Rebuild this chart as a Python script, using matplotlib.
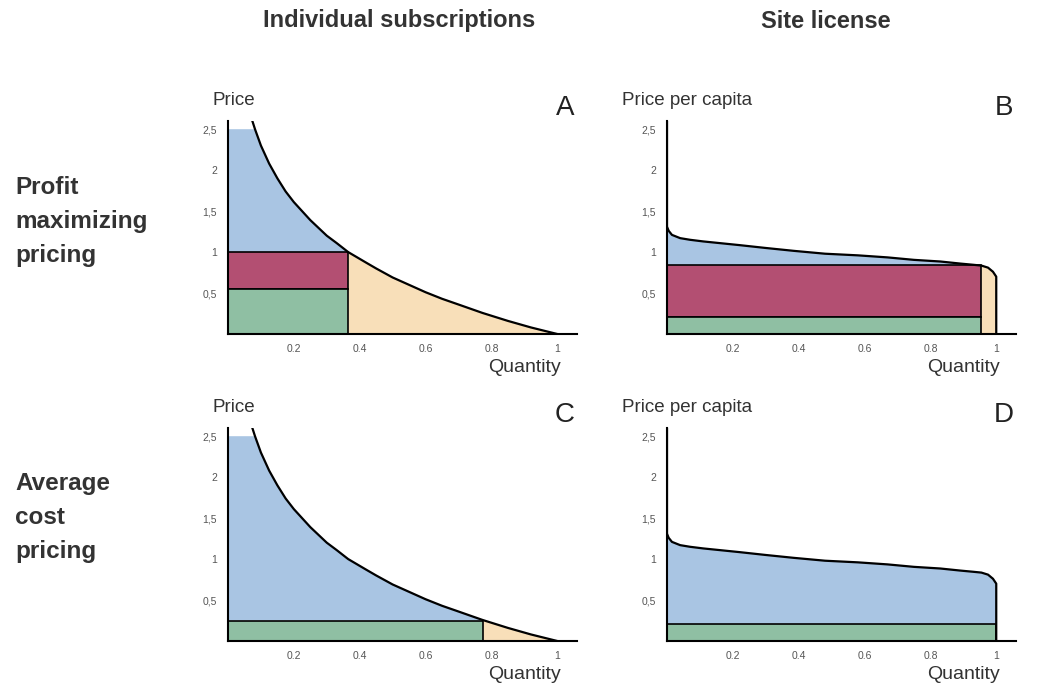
import matplotlib
matplotlib.use('Agg')
import matplotlib.pyplot as plt
import matplotlib.patches as patches
import numpy as np

plt.rcParams['font.family'] = ['Liberation Sans', 'DejaVu Sans']

# === data ===
# individual subscription demand curve (quantity, price)
IND_Q = [0.074, 0.082, 0.1, 0.125, 0.15, 0.175, 0.2, 0.25, 0.3, 0.33, 0.365, 0.42,
         0.45, 0.5, 0.55, 0.6, 0.65, 0.7, 0.773, 0.85, 0.92, 0.97, 1.0]
IND_P = [2.6, 2.5, 2.3, 2.08, 1.9, 1.74, 1.61, 1.39, 1.2, 1.11, 1.0, 0.87,
         0.80, 0.69, 0.60, 0.51, 0.43, 0.36, 0.257, 0.16, 0.08, 0.03, 0.0]

# site license demand curve (per capita)
SITE_Q = [0, 0, 0.005, 0.015, 0.04, 0.07, 0.11, 0.22, 0.30, 0.385, 0.48, 0.58,
          0.67, 0.75, 0.83, 0.89, 0.93, 0.955, 0.975, 0.99, 1.0, 1.0]
SITE_P = [2.6, 1.31, 1.26, 1.21, 1.17, 1.15, 1.13, 1.085, 1.05, 1.015, 0.98, 0.96,
          0.935, 0.905, 0.885, 0.86, 0.845, 0.835, 0.81, 0.76, 0.70, 0.0]

# panel A: profit maximizing, individual
A_PRICE, A_QTY, A_COST = 1.0, 0.365, 0.55
# panel B: profit maximizing, site license
B_PRICE, B_QTY, B_COST = 0.84, 0.954, 0.21
# panel C: average cost, individual
C_PRICE, C_QTY = 0.25, 0.773
# panel D: average cost, site license
D_PRICE, D_QTY = 0.21, 1.0

X_TICKS = [0.2, 0.4, 0.6, 0.8, 1]
X_LABELS = ['0.2', '0.4', '0.6', '0.8', '1']
Y_TICKS = [0.5, 1, 1.5, 2, 2.5]
Y_LABELS = ['0,5', '1', '1,5', '2', '2,5']

BLUE = '#a9c5e3'
RED = '#b34f72'
GREEN = '#8fbfa3'
ORANGE = '#f8dfb9'
TXT = '#333333'


def curve_area(ax, q, p, q0, q1, floor, cap, color):
    """polygon between the curve and a floor, limited to q0..q1"""
    q = np.asarray(q)
    p = np.asarray(p)
    keep = (q >= q0) & (q <= q1) & (p >= floor) & (p <= cap)
    pts = list(zip(q[keep], p[keep]))
    pts.insert(0, (q0, pts[0][1]))
    poly = [(q0, floor)] + pts + [(pts[-1][0], floor)]
    ax.add_patch(patches.Polygon(poly, closed=True, facecolor=color,
                                 edgecolor='none', zorder=1))


def rect(ax, x0, x1, y0, y1, color):
    ax.add_patch(patches.Rectangle((x0, y0), x1 - x0, y1 - y0, facecolor=color,
                                   edgecolor='black', linewidth=1.2, zorder=2))


def setup(ax, ylabel, ylabel_x, letter):
    ax.set_xlim(0, 1.06)
    ax.set_ylim(0, 2.6)
    for s in ['top', 'right']:
        ax.spines[s].set_visible(False)
    for s in ['left', 'bottom']:
        ax.spines[s].set_linewidth(1.5)
    ax.set_xticks(X_TICKS)
    ax.set_xticklabels(X_LABELS)
    ax.set_yticks(Y_TICKS)
    ax.set_yticklabels(Y_LABELS)
    ax.tick_params(axis='x', length=0, labelsize=7.5, colors='#555555', pad=7)
    ax.tick_params(axis='y', length=0, labelsize=7.5, colors='#555555', pad=8)
    ax.text(ylabel_x, 1.095, ylabel, transform=ax.transAxes, fontsize=13.5,
            color=TXT, ha='left', va='center')
    ax.text(1.01, -0.158, 'Quantity', transform=ax.get_xaxis_transform(),
            fontsize=14, color=TXT, ha='right', va='center')
    ax.text(0.965, 1.062, letter, transform=ax.transAxes, fontsize=20,
            color='#222222', ha='center', va='center')


fig = plt.figure(figsize=(10.37, 6.84), dpi=100)
W, H = 1037, 684
aw, ah = 349 / W, 213 / H
axA = fig.add_axes([228 / W, (H - 334) / H, aw, ah])
axB = fig.add_axes([667 / W, (H - 334) / H, aw, ah])
axC = fig.add_axes([228 / W, (H - 641) / H, aw, ah])
axD = fig.add_axes([667 / W, (H - 641) / H, aw, ah])

# --- A ---
curve_area(axA, IND_Q, IND_P, 0, A_QTY, A_PRICE, 2.5, BLUE)
curve_area(axA, IND_Q, IND_P, A_QTY, 1.0, 0, 2.5, ORANGE)
rect(axA, 0, A_QTY, A_COST, A_PRICE, RED)
rect(axA, 0, A_QTY, 0, A_COST, GREEN)
axA.plot(IND_Q, IND_P, color='black', lw=1.6, zorder=3)
setup(axA, 'Price', -0.043, 'A')

# --- B ---
curve_area(axB, SITE_Q, SITE_P, 0, B_QTY, B_PRICE, 2.5, BLUE)
curve_area(axB, SITE_Q, SITE_P, B_QTY, 1.0, 0, 2.5, ORANGE)
rect(axB, 0, B_QTY, B_COST, B_PRICE, RED)
rect(axB, 0, B_QTY, 0, B_COST, GREEN)
axB.plot(SITE_Q, SITE_P, color='black', lw=1.6, zorder=3)
setup(axB, 'Price per capita', -0.13, 'B')

# --- C ---
curve_area(axC, IND_Q, IND_P, 0, C_QTY, C_PRICE, 2.5, BLUE)
curve_area(axC, IND_Q, IND_P, C_QTY, 1.0, 0, 2.5, ORANGE)
rect(axC, 0, C_QTY, 0, C_PRICE, GREEN)
axC.plot(IND_Q, IND_P, color='black', lw=1.6, zorder=3)
setup(axC, 'Price', -0.043, 'C')

# --- D ---
curve_area(axD, SITE_Q, SITE_P, 0, D_QTY, D_PRICE, 2.5, BLUE)
rect(axD, 0, D_QTY, 0, D_PRICE, GREEN)
axD.plot(SITE_Q, SITE_P, color='black', lw=1.6, zorder=3)
setup(axD, 'Price per capita', -0.13, 'D')

# column / row headings
fig.text(399 / W, 1 - 21 / H, 'Individual subscriptions', fontsize=17,
         fontweight='bold', color=TXT, ha='center', va='center')
fig.text(826 / W, 1 - 21 / H, 'Site license', fontsize=17,
         fontweight='bold', color=TXT, ha='center', va='center')
fig.text(15 / W, 1 - 176 / H, 'Profit\nmaximizing\npricing', fontsize=17.5,
         fontweight='bold', color=TXT, ha='left', va='top', linespacing=1.6)
fig.text(15 / W, 1 - 472 / H, 'Average\ncost\npricing', fontsize=17.5,
         fontweight='bold', color=TXT, ha='left', va='top', linespacing=1.6)

fig.savefig('out.png', dpi=100, facecolor='white')
